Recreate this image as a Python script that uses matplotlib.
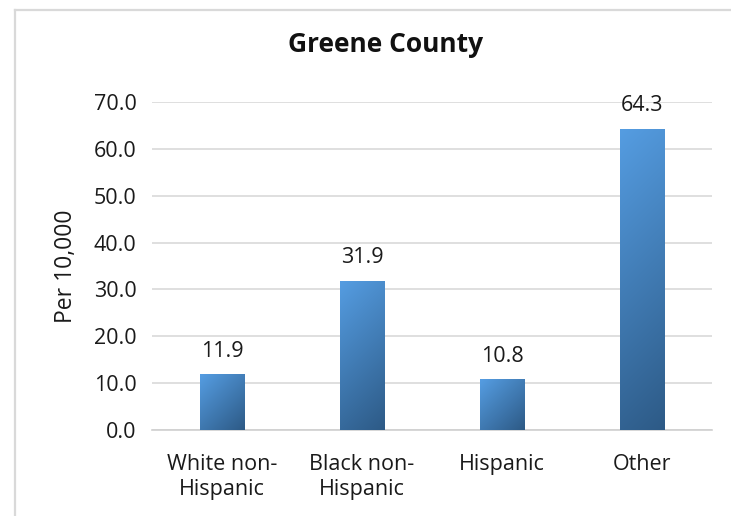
import numpy as np
import matplotlib
matplotlib.use("Agg")
import matplotlib.pyplot as plt
from matplotlib.lines import Line2D
from matplotlib.colors import to_rgb

categories = ["White non-\nHispanic", "Black non-\nHispanic", "Hispanic", "Other"]
values = [11.9, 31.9, 10.8, 64.3]
yticks = [0, 10, 20, 30, 40, 50, 60, 70]

plt.rcParams["font.family"] = ["Open Sans", "DejaVu Sans"]

W, H = 731, 516
FS = 15.5
TXT = "#1a1a1a"
fig = plt.figure(figsize=(W / 100, H / 100), dpi=100)
ax = fig.add_axes([152 / W, 86 / H, 560 / W, 328 / H])

x = np.arange(len(categories))
bar_w = 0.32
bars = ax.bar(x, values, width=bar_w, color="none", edgecolor="none", zorder=3)

ax.set_xlim(-0.5, len(categories) - 0.5)
ax.set_ylim(0, 70)

# gradient fill: light blue at top-left to dark blue at bottom-right
top_c = np.array(to_rgb("#559DE2"))
bot_c = np.array(to_rgb("#2D5A86"))
ppu_x = 560 / (len(categories))
ppu_y = 328 / 70
for b, v in zip(bars, values):
    wpx = max(int(round(bar_w * ppu_x)), 2)
    hpx = max(int(round(v * ppu_y)), 2)
    xx, yy = np.meshgrid(np.arange(wpx), np.arange(hpx))
    t = (xx + yy) / (wpx + hpx - 2)
    img = top_c[None, None, :] * (1 - t[..., None]) + bot_c[None, None, :] * t[..., None]
    x0 = b.get_x()
    im = ax.imshow(img, extent=[x0, x0 + bar_w, 0, v], origin="upper",
                   aspect="auto", zorder=3, interpolation="bilinear")
    im.set_clip_path(b)
    ax.annotate(f"{v:.1f}", xy=(b.get_x() + bar_w / 2, v), xytext=(0, 12.5),
                textcoords="offset points", ha="center", va="baseline",
                fontsize=FS, color=TXT)

ax.set_yticks(yticks)
ax.set_yticklabels([f"{t:.1f}" for t in yticks], fontsize=FS, color=TXT)
ax.set_xticks(x)
ax.set_xticklabels(categories, fontsize=FS, color=TXT, linespacing=1.3)
ax.tick_params(axis="both", length=0)
ax.tick_params(axis="y", pad=11)
ax.tick_params(axis="x", pad=17)

ax.grid(axis="y", color="#D9D9D9", linewidth=1.2, zorder=0)
ax.set_axisbelow(True)
for s in ["top", "right", "left"]:
    ax.spines[s].set_visible(False)
ax.spines["bottom"].set_color("#D0D0D0")
ax.spines["bottom"].set_linewidth(1.2)

ax.set_ylabel("Per 10,000", fontsize=16.5, color=TXT)
ax.yaxis.set_label_coords((78 - 152) / 560, 0.5)

fig.text(386 / W, 1 - 44 / H, "Greene County", ha="center", va="center",
         fontsize=19, fontweight="bold", color="#111111")

# chart frame (left and top edges)
fx, fy = 14.5 / W, 1 - 9.5 / H
fig.add_artist(Line2D([fx, fx], [0, fy], transform=fig.transFigure,
                      color="#D9D9D9", linewidth=1.6))
fig.add_artist(Line2D([fx, 1], [fy, fy], transform=fig.transFigure,
                      color="#D9D9D9", linewidth=1.6))

fig.savefig("out.png", dpi=100)
